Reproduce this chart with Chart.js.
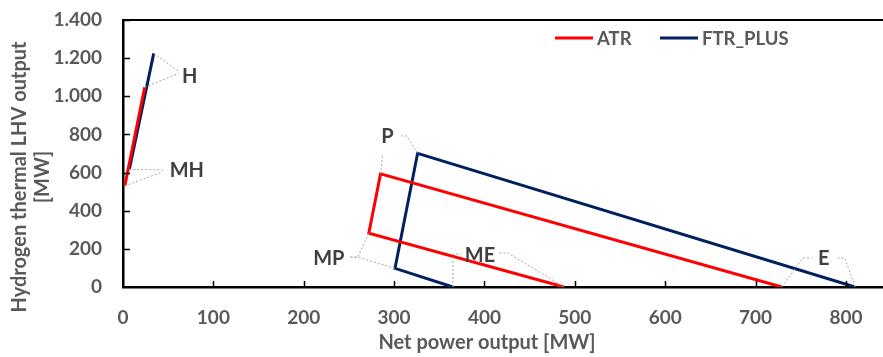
<!DOCTYPE html>
<html>
<head>
<meta charset="utf-8">
<script src="https://cdn.jsdelivr.net/npm/chart.js@4.4.0/dist/chart.umd.min.js"></script>
<style>
  html, body { margin: 0; padding: 0; background: #fff; overflow: hidden; }
  #wrap { width: 883px; height: 357px; position: relative; }
</style>
</head>
<body>
<div id="wrap"><canvas id="chart"></canvas></div>
<script>
// Series data (net power output [MW] vs hydrogen thermal LHV output [MW])
const seriesNames = ['ATR', 'FTR_PLUS'];
const pointNames = ['H', 'MH', null, 'E', 'P', 'MP', 'ME'];
const atrNet = [24, 2, null, 729, 285, 272, 488];
const atrH2 = [1047, 530, null, 0, 593, 282, 0];
const ftrNet = [34, 7, null, 810, 326, 301, 365];
const ftrH2 = [1225, 617, null, 0, 701, 98, 0];
const xTickValues = [0, 100, 200, 300, 400, 500, 600, 700, 800];

const seriesColors = ['#FF0000', '#002060'];
const FONT = 'Lato, "Noto Sans", sans-serif';
const GREY = '#595959';

// label placement (pixels): center offset from the ATR point,
// leader lines per series: [elbow offset, end offset] relative to label center
const labelStyle = {
    H:  { dx: 45,  dy: -12, leaders: [[null, [-11, -2]], [null, [-11, -4]]] },
    MH: { dx: 62,  dy: -16, leaders: [[null, [-24, 2]], [null, [-24, 0]]] },
    P:  { dx: 7,   dy: -38, leaders: [[null, [-5, 19]], [[19, 0], [14, 0]]] },
    MP: { dx: -40, dy: 24,  leaders: [[[29, 0], [21, 0]], [[29, 0], [21, 0]]] },
    ME: { dx: -84, dy: -32, leaders: [[[28, -2], [19, -2]], [[-27, -1], [-19, -1]]] },
    E:  { dx: 42,  dy: -29, leaders: [[[-21, 0], [-12, 0]], [[21, 0], [13, 0]]] }
};

function toPoints(xs, ys) {
    return xs.map((x, i) => ({ x: x, y: ys[i] }));
}

// Draws ticks inside, top frame line, labels with leader lines, legend and axis titles
const decorPlugin = {
    id: 'decor',
    afterDatasetsDraw(chart) {
        const ctx = chart.ctx;
        const area = chart.chartArea;
        const xs = chart.scales.x;
        const ys = chart.scales.y;
        ctx.save();

        // top frame line
        ctx.strokeStyle = '#000';
        ctx.lineWidth = 2;
        ctx.beginPath();
        ctx.moveTo(area.left, area.top);
        ctx.lineTo(area.right, area.top);
        ctx.stroke();

        // inner tick marks
        ctx.lineWidth = 1.5;
        xs.ticks.forEach(t => {
            const px = Math.round(xs.getPixelForValue(t.value)) + 0.5;
            if (t.value === 0) return;
            ctx.beginPath();
            ctx.moveTo(px, area.bottom);
            ctx.lineTo(px, area.bottom - 6);
            ctx.stroke();
        });
        ys.ticks.forEach(t => {
            const py = Math.round(ys.getPixelForValue(t.value)) + 0.5;
            if (t.value === 0) return;
            ctx.beginPath();
            ctx.moveTo(area.left, py);
            ctx.lineTo(area.left + 7, py);
            ctx.stroke();
        });

        // point labels with dotted leader lines
        const metaA = chart.getDatasetMeta(0);
        const metaF = chart.getDatasetMeta(1);
        ctx.font = 'bold 20px ' + FONT;
        ctx.textAlign = 'center';
        ctx.textBaseline = 'middle';
        pointNames.forEach((name, i) => {
            if (!name) return;
            const st = labelStyle[name];
            const ref = metaA.data[i];
            const cx = ref.x + st.dx;
            const cy = ref.y + st.dy;
            [metaA, metaF].forEach((meta, s) => {
                const p = meta.data[i];
                const [elbow, end] = st.leaders[s];
                ctx.strokeStyle = '#A6A6A6';
                ctx.lineWidth = 1;
                ctx.setLineDash([2, 2]);
                ctx.beginPath();
                ctx.moveTo(p.x, p.y);
                if (elbow) ctx.lineTo(cx + elbow[0], cy + elbow[1]);
                ctx.lineTo(cx + end[0], cy + end[1]);
                ctx.stroke();
                ctx.setLineDash([]);
            });
            ctx.fillStyle = '#404040';
            ctx.fillText(name, cx, cy + 1);
        });

        // legend
        const legendX = [555, 660];
        ctx.font = 'bold 18.5px ' + FONT;
        ctx.textAlign = 'left';
        ctx.textBaseline = 'middle';
        seriesNames.forEach((name, s) => {
            ctx.strokeStyle = seriesColors[s];
            ctx.lineWidth = 3;
            ctx.beginPath();
            ctx.moveTo(legendX[s], 38);
            ctx.lineTo(legendX[s] + 38, 38);
            ctx.stroke();
            ctx.fillStyle = GREY;
            ctx.fillText(name, legendX[s] + 42, 39);
        });

        // axis titles
        ctx.font = 'bold 20px ' + FONT;
        ctx.textAlign = 'center';
        ctx.fillText('Net power output [MW]', 487, 343);
        ctx.translate(20, 177);
        ctx.rotate(-Math.PI / 2);
        ctx.fillText('Hydrogen thermal LHV output', 0, 0);
        ctx.fillText('[MW]', 0, 23);
        ctx.restore();
    }
};

new Chart(document.getElementById('chart').getContext('2d'), {
    type: 'scatter',
    data: {
        datasets: [
            {
                label: seriesNames[0],
                data: toPoints(atrNet, atrH2),
                borderColor: seriesColors[0],
                backgroundColor: seriesColors[0],
                borderWidth: 3,
                showLine: true,
                pointRadius: 0,
                spanGaps: false
            },
            {
                label: seriesNames[1],
                data: toPoints(ftrNet, ftrH2),
                borderColor: seriesColors[1],
                backgroundColor: seriesColors[1],
                borderWidth: 3,
                showLine: true,
                pointRadius: 0,
                spanGaps: false
            }
        ]
    },
    options: {
        responsive: true,
        maintainAspectRatio: false,
        animation: false,
        layout: { padding: { top: 20, right: 0, left: 0, bottom: 0 } },
        plugins: {
            legend: { display: false },
            tooltip: { enabled: false }
        },
        scales: {
            x: {
                type: 'linear',
                min: 0,
                max: 841,
                afterFit: s => { s.height = 70; s.paddingLeft = 0; s.paddingRight = 0; },
                afterBuildTicks: s => { s.ticks = xTickValues.map(v => ({ value: v })); },
                grid: { display: false, drawTicks: false },
                border: { display: true, color: '#000', width: 2.5 },
                ticks: {
                    padding: 19,
                    color: GREY,
                    font: { family: FONT, size: 19, weight: 'bold' }
                }
            },
            y: {
                min: 0,
                max: 1400,
                afterFit: s => { s.width = 123; s.paddingTop = 0; s.paddingBottom = 0; },
                grid: { display: false, drawTicks: false },
                border: { display: true, color: '#000', width: 2.5 },
                ticks: {
                    stepSize: 200,
                    padding: 21,
                    color: GREY,
                    font: { family: FONT, size: 19, weight: 'bold' },
                    callback: v => String(v).replace(/\B(?=(\d{3})+(?!\d))/g, '.')
                }
            }
        }
    },
    plugins: [decorPlugin]
});
</script>
</body>
</html>
